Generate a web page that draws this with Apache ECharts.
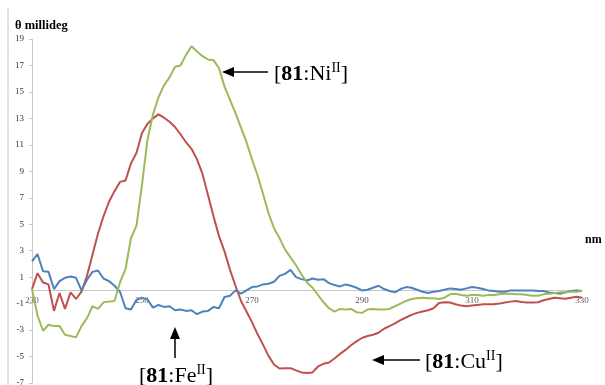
<!DOCTYPE html>
<html>
<head>
<meta charset="utf-8">
<script src="https://cdn.jsdelivr.net/npm/echarts@6/dist/echarts.min.js"></script>
<style>
html,body{margin:0;padding:0;background:#fff;}
#chart{width:605px;height:385px;}
</style>
</head>
<body>
<div id="chart"></div>
<script>
// wavelengths (nm), 1 nm steps
const wavelengths = [];
for (let w = 230; w <= 330; w++) wavelengths.push(w);

const xTicks = [230, 250, 270, 290, 310, 330];

// [81:Fe(II)] blue
const feValues = [
  2.2, 2.75, 1.45, 1.4, 0.1, 0.7, 0.95, 1.05, 0.95, 0.0,
  0.8, 1.4, 1.5, 0.9, 0.7, 0.35, -0.1, -1.35, -1.45, -0.7,
  -0.55, -0.7, -1.3, -1.1, -1.25, -1.2, -1.5, -1.45, -1.55, -1.5,
  -1.8, -1.6, -1.55, -1.25, -1.35, -0.5, -0.4, 0.0, -0.25, 0.0,
  0.25, 0.3, 0.45, 0.5, 0.65, 1.1, 1.25, 1.55, 1.0, 0.85,
  0.75, 0.9, 0.8, 0.85, 0.55, 0.4, 0.3, 0.45, 0.35, 0.2,
  0.0, 0.05, 0.2, 0.35, 0.1, -0.05, -0.15, 0.1, 0.25, 0.2,
  0.05, -0.1, -0.2, -0.1, -0.05, 0.05, 0.15, 0.1, 0.05, 0.15,
  0.25, 0.2, 0.1, 0.0, -0.05, -0.1, -0.1, 0.0, 0.0, 0.0,
  0.0, 0.0, -0.05, -0.05, -0.15, -0.2, -0.25, -0.15, -0.05, 0.0,
  -0.05
];

// [81:Cu(II)] red
const cuValues = [
  0.1, 1.3, 0.6, 0.45, -1.55, -0.2, -1.4, -0.15, -0.65, -0.1,
  1.1, 2.7, 4.3, 5.6, 6.7, 7.5, 8.2, 8.3, 9.6, 10.4,
  11.9, 12.6, 13.0, 13.3, 13.05, 12.75, 12.35, 11.8, 11.2, 10.7,
  9.9, 8.8, 7.2, 5.6, 4.1, 2.95, 1.55, 0.35, -0.8, -1.6,
  -2.4, -3.3, -4.1, -4.95, -5.6, -5.9, -5.88, -5.88, -6.05, -6.2,
  -6.25, -6.2, -5.75, -5.55, -5.45, -5.15, -4.8, -4.5, -4.15, -3.85,
  -3.6, -3.45, -3.35, -3.2, -2.9, -2.7, -2.5, -2.25, -2.05, -1.85,
  -1.7, -1.6, -1.5, -1.35, -0.95, -0.9, -0.92, -1.05, -1.15, -1.2,
  -1.15, -1.1, -1.05, -1.05, -1.05, -1.0, -0.92, -0.85, -0.8, -0.88,
  -0.92, -0.92, -0.9, -0.75, -0.65, -0.55, -0.6, -0.63, -0.55, -0.48,
  -0.55
];

// [81:Ni(II)] green
const niValues = [
  0.1, -1.9, -3.05, -2.6, -2.7, -2.7, -3.35, -3.45, -3.55, -2.7,
  -2.1, -1.2, -1.4, -0.9, -0.85, -0.8, 0.6, 1.6, 3.96, 4.9,
  8.0, 11.4, 13.3, 14.6, 15.5, 16.1, 16.9, 17.0, 17.8, 18.45,
  18.05, 17.7, 17.45, 17.4, 16.8, 15.4, 14.4, 13.4, 12.3, 11.2,
  9.9, 8.7, 7.3, 5.84, 4.7, 3.95, 3.1, 2.5, 1.9, 1.2,
  0.6, 0.2, -0.35, -0.9, -1.35, -1.6, -1.4, -1.45, -1.4, -1.65,
  -1.7, -1.45, -1.4, -1.45, -1.45, -1.4, -1.2, -1.0, -0.8, -0.65,
  -0.6, -0.55, -0.6, -0.6, -0.65, -0.55, -0.3, -0.25, -0.35, -0.4,
  -0.35, -0.35, -0.4, -0.35, -0.35, -0.3, -0.25, -0.25, -0.3, -0.3,
  -0.35, -0.4, -0.4, -0.3, -0.25, -0.2, -0.15, -0.15, -0.1, -0.1,
  -0.05
];

const SERIF = '"Liberation Serif", "DejaVu Serif", serif';

function pairs(vals) { return wavelengths.map((w, i) => [w, vals[i]]); }

const chart = echarts.init(document.getElementById('chart'), null, {renderer: 'canvas'});

function label(x, y, metal) {
  return {
    type: 'text', left: x, top: y,
    style: {
      text: '{b|[}{bb|81}{b|:' + metal + '}{s|II}{b|]}',
      rich: {
        b: {fontFamily: SERIF, fontSize: 22, lineHeight: 24, fill: '#000', verticalAlign: 'bottom'},
        bb: {fontFamily: SERIF, fontSize: 22, fontWeight: 'bold', lineHeight: 24, fill: '#000', verticalAlign: 'bottom'},
        s: {fontFamily: SERIF, fontSize: 14, lineHeight: 24, fill: '#000', verticalAlign: 'top'}
      }
    }
  };
}

function arrow(x1, y1, x2, y2) {
  const dx = x2 - x1, dy = y2 - y1;
  const len = Math.sqrt(dx * dx + dy * dy);
  const ux = dx / len, uy = dy / len;
  const hl = 12, hw = 5;
  const bx = x2 - ux * hl, by = y2 - uy * hl;
  return [
    {type: 'line', shape: {x1: x1, y1: y1, x2: bx, y2: by}, style: {stroke: '#000', lineWidth: 1.5}},
    {type: 'polygon', shape: {points: [[x2, y2], [bx - uy * hw, by + ux * hw], [bx + uy * hw, by - ux * hw]]}, style: {fill: '#000'}}
  ];
}

const option = {
  animation: false,
  backgroundColor: '#fff',
  grid: {left: 32, right: 23, top: 39, bottom: 2, containLabel: false, outerBoundsMode: 'none'},
  xAxis: {
    type: 'value', min: xTicks[0], max: xTicks[xTicks.length - 1], interval: 20,
    axisLine: {onZero: true, lineStyle: {color: '#c8c8c8', width: 1}},
    axisTick: {show: false},
    splitLine: {show: false},
    axisLabel: {show: false}
  },
  yAxis: {
    type: 'value', min: -7, max: 19, interval: 2,
    axisLine: {show: true, onZero: false, lineStyle: {color: '#c8c8c8', width: 1}},
    axisTick: {show: true, length: 3, lineStyle: {color: '#c8c8c8'}},
    splitLine: {show: false},
    axisLabel: {fontFamily: SERIF, fontSize: 9, color: '#333', margin: 8}
  },
  series: [
    {name: '[81:FeII]', type: 'line', data: pairs(feValues), showSymbol: false, lineStyle: {color: '#4f81bd', width: 2}, itemStyle: {color: '#4f81bd'}, z: 3},
    {name: '[81:CuII]', type: 'line', data: pairs(cuValues), showSymbol: false, lineStyle: {color: '#c0504d', width: 2}, itemStyle: {color: '#c0504d'}, z: 2},
    {name: '[81:NiII]', type: 'line', data: pairs(niValues), showSymbol: false, lineStyle: {color: '#9bbb59', width: 2}, itemStyle: {color: '#9bbb59'}, z: 4},
    {
      name: 'xTickLabels', type: 'scatter', symbolSize: 0, silent: true, z: 1,
      data: xTicks.map(t => [t, 0]),
      label: {
        show: true, position: 'bottom', distance: 6,
        formatter: p => String(p.value[0]),
        fontFamily: SERIF, fontSize: 9, color: '#333'
      }
    }
  ],
  graphic: [
    {type: 'line', shape: {x1: 8, y1: 8, x2: 8, y2: 385}, style: {stroke: '#c8c8c8', lineWidth: 1}},
    {type: 'text', left: 15, top: 19, style: {text: 'θ millideg', fontFamily: SERIF, fontSize: 12.5, fontWeight: 'bold', fill: '#000'}},
    {type: 'text', left: 585, top: 234, style: {text: 'nm', fontFamily: SERIF, fontSize: 12, fontWeight: 'bold', fill: '#000'}},
    label(274, 61, 'Ni'),
    label(425, 349, 'Cu'),
    label(139, 363, 'Fe'),
    ...arrow(268, 72, 222, 72),
    ...arrow(420, 360, 372, 360),
    ...arrow(175, 358, 175, 327)
  ]
};
chart.setOption(option);
</script>
</body>
</html>
